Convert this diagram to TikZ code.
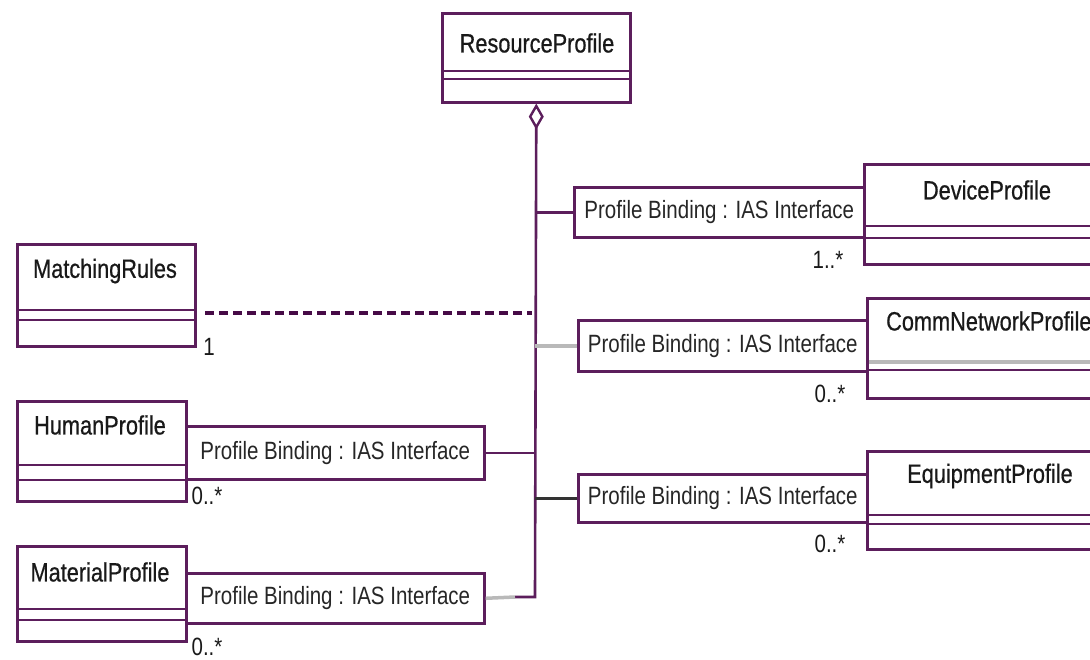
\documentclass[tikz,border=0pt]{standalone}
\usepackage{fontspec}
\setmainfont[FakeStretch=0.82]{Liberation Sans}
\newfontfamily\clsfont[FakeStretch=0.82,FakeBold=0.6]{Liberation Sans}
\usetikzlibrary{arrows.meta}
\definecolor{pur}{RGB}{92,30,92}
\definecolor{dpur}{RGB}{70,10,70}
\definecolor{lgray}{RGB}{185,185,185}
\begin{document}
\begin{tikzpicture}[x=1pt,y=-1pt,
  pl/.style={draw=pur, line width=2.6pt},
  gl/.style={draw=lgray, line width=3.5pt},
  cls/.style={pl, fill=white, inner sep=0pt, anchor=north west},
  bind/.style={pl, fill=white, inner sep=0pt, anchor=north west, font=\fontsize{25}{28}\selectfont, text=black!85},
  lbl/.style={font=\clsfont\fontsize{26.5}{28}\selectfont, inner sep=0pt, text=black!90},
  mult/.style={font=\fontsize{25}{28}\selectfont, inner sep=0pt, text=black!90},
]
\useasboundingbox (0,0) rectangle (1090,660);
\clip (0,0) rectangle (1090,660);

% ResourceProfile
\node[cls, minimum width=188pt, minimum height=89pt] (rp) at (441,12) {};
\draw[pl] (rp.west |- 0,71) -- (rp.east |- 0,71);
\draw[pl] (rp.west |- 0,79) -- (rp.east |- 0,79);
\node[lbl] (rpn) at (537,43) {ResourceProfile};

% MatchingRules
\node[cls, minimum width=178pt, minimum height=102pt] (mr) at (16,243) {};
\draw[pl] (mr.west |- 0,310) -- (mr.east |- 0,310);
\draw[pl] (mr.west |- 0,320) -- (mr.east |- 0,320);
\node[lbl] (mrn) at (105,271) {MatchingRules};
\node[mult] (m1) at (209,347) {1};

% HumanProfile
\node[cls, minimum width=169pt, minimum height=100pt] (hp) at (16,400) {};
\draw[pl] (hp.west |- 0,465) -- (hp.east |- 0,465);
\draw[pl] (hp.west |- 0,480) -- (hp.east |- 0,480);
\node[lbl] (hpn) at (100,425) {HumanProfile};
\node[bind, minimum width=298pt, minimum height=53pt] (hb) at (185,425) {Profile Binding : IAS Interface};
\node[mult] (m2) at (207,496) {0..*};

% MaterialProfile
\node[cls, minimum width=169pt, minimum height=95pt] (mp) at (16,545) {};
\draw[pl] (mp.west |- 0,609) -- (mp.east |- 0,609);
\draw[pl] (mp.west |- 0,620) -- (mp.east |- 0,620);
\node[lbl] (mpn) at (100,572) {MaterialProfile};
\node[bind, minimum width=298pt, minimum height=50pt] (mb) at (185,572) {Profile Binding : IAS Interface};
\node[mult] (m3) at (207,647) {0..*};

% DeviceProfile
\node[cls, minimum width=250pt, minimum height=100pt] (dp) at (863,163) {};
\draw[pl] (dp.west |- 0,226) -- (dp.east |- 0,226);
\draw[pl] (dp.west |- 0,238) -- (dp.east |- 0,238);
\node[lbl] (dpn) at (987,190) {DeviceProfile};
\node[bind, minimum width=290pt, minimum height=50pt] (db) at (573,186) {Profile Binding : IAS Interface};
\node[mult] (m4) at (828,260) {1..*};

% CommNetworkProfile
\node[cls, minimum width=250pt, minimum height=100pt] (cp) at (866,297) {};
\draw[gl] (cp.west |- 0,362) -- (cp.east |- 0,362);
\draw[pl] (cp.west |- 0,370) -- (cp.east |- 0,370);
\node[lbl, anchor=west] (cpn) at (886,321) {CommNetworkProfile};
\node[bind, minimum width=289pt, minimum height=51pt] (cb) at (577,319) {Profile Binding : IAS Interface};
\node[mult] (m5) at (830,394) {0..*};

% EquipmentProfile
\node[cls, minimum width=250pt, minimum height=98pt] (ep) at (866,450) {};
\draw[pl] (ep.west |- 0,515) -- (ep.east |- 0,515);
\draw[pl] (ep.west |- 0,524) -- (ep.east |- 0,524);
\node[lbl] (epn) at (990,476) {EquipmentProfile};
\node[bind, minimum width=289pt, minimum height=48pt] (eb) at (577,473) {Profile Binding : IAS Interface};
\node[mult] (m6) at (830,544) {0..*};

% trunk with aggregation diamond
\coordinate (tb) at (535,597);
\coordinate (mg) at (515,597);
\draw[pl, {Diamond[open, fill=white, length=26pt, width=15pt, line width=2.4pt]}-] (rp.south) -- (tb) -- (mg);
\draw[gl] (mg) -- (mb.east);

% branches
\draw[pl] (db.west) -- (db.west -| tb);
\draw[gl] (cb.west) -- (cb.west -| tb);
\draw[draw=black!80, line width=2.4pt] (eb.west) -- (eb.west -| tb);
\draw[pl] (hb.east) -- (hb.east -| tb);

% dependency to MatchingRules
\coordinate (md) at (205,313);
\draw[draw=dpur, line width=4pt, dash pattern=on 9pt off 5pt] (md) -- ([xshift=-3pt]md -| tb);
\end{tikzpicture}
\end{document}
